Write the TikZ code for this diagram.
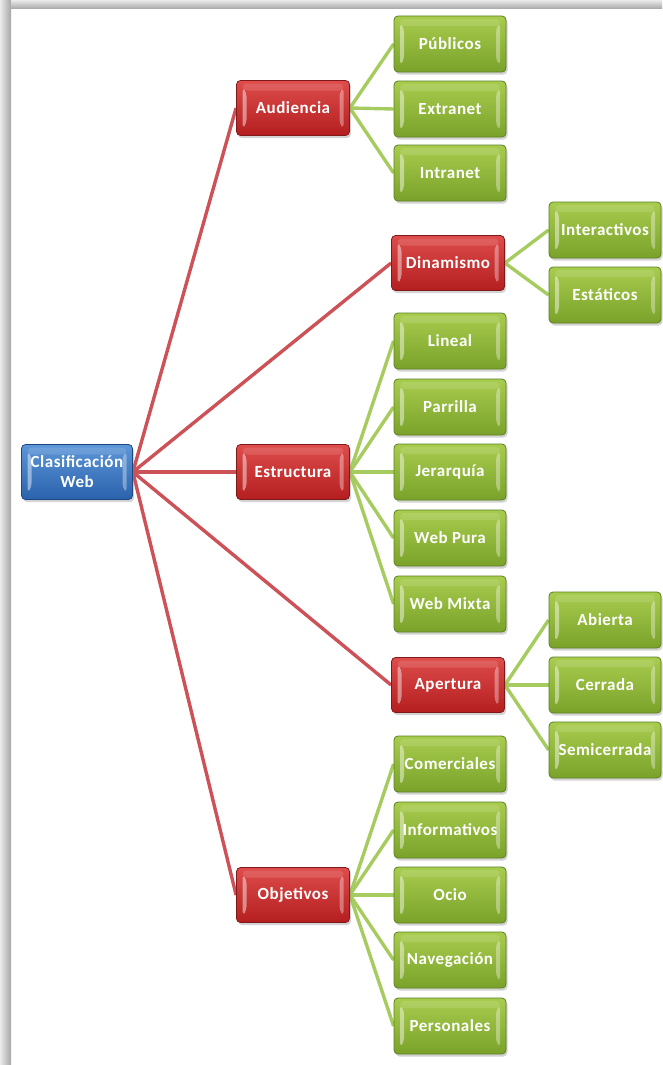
\documentclass[tikz,border=0pt]{standalone}
\usepackage{fontspec}
\setmainfont{Carlito}[LetterSpace=3]
\usetikzlibrary{shadows,calc,backgrounds}

\definecolor{redTop}{RGB}{222,76,76}
\definecolor{redBot}{RGB}{180,30,30}
\definecolor{redEdge}{RGB}{128,26,26}
\definecolor{grnTop}{RGB}{168,204,78}
\definecolor{grnBot}{RGB}{122,162,42}
\definecolor{grnEdge}{RGB}{92,128,34}
\definecolor{bluTop}{RGB}{92,150,215}
\definecolor{bluBot}{RGB}{42,98,172}
\definecolor{bluEdge}{RGB}{32,70,130}
\definecolor{redLine}{RGB}{204,82,88}
\definecolor{grnLine}{RGB}{166,204,96}

\tikzset{
  bevel/.style={path picture={
    \fill[white,opacity=.45]
      ($(path picture bounding box.north west)+(6,7)$) --
      ($(path picture bounding box.north west)+(10,12)$) --
      ($(path picture bounding box.south west)+(10,-12)$) --
      ($(path picture bounding box.south west)+(6,-7)$) -- cycle;
    \fill[white,opacity=.35]
      ($(path picture bounding box.north east)+(-6,7)$) --
      ($(path picture bounding box.north east)+(-10,12)$) --
      ($(path picture bounding box.south east)+(-10,-12)$) --
      ($(path picture bounding box.south east)+(-6,-7)$) -- cycle;
    \fill[white,opacity=.12]
      ($(path picture bounding box.north west)+(6,3)$) rectangle
      ($(path picture bounding box.north east)+(-6,10)$);
  }},
  box/.style={rounded corners=4pt, minimum width=112pt, minimum height=56pt,
    inner sep=0pt, align=center, text=white, line width=0.8pt,
    font=\bfseries\fontsize{17}{20}\selectfont, bevel,
    drop shadow={shadow xshift=1.5pt, shadow yshift=-2.5pt, opacity=.35}},
  rootbox/.style={box, minimum width=111pt, minimum height=55pt,
    top color=bluTop, bottom color=bluBot, draw=bluEdge},
  redbox/.style={box, minimum width=113pt, minimum height=55pt,
    top color=redTop, bottom color=redBot, draw=redEdge},
  leafbox/.style={box, top color=grnTop, bottom color=grnBot, draw=grnEdge},
  redlink/.style={draw=redLine, line width=3.4pt},
  grnlink/.style={draw=grnLine, line width=3.4pt},
}

\begin{document}
\begin{tikzpicture}[x=1pt,y=-1pt]
  \useasboundingbox (0,0) rectangle (662,1065);
  % shadowed frame along the top and left edges
  \shade[left color=black!8, right color=black!35] (0,0) rectangle (11,1065);
  \shade[top color=black!8, bottom color=black!35] (11,0) rectangle (662,9);

  % root
  \node[rootbox] (root) at (77,472) {Clasificación\\Web};

  % first level
  \node[redbox] (aud) at (293,108) {Audiencia};
  \node[redbox] (din) at (448,263) {Dinamismo};
  \node[redbox] (est) at (293,472) {Estructura};
  \node[redbox] (ape) at (448,685) {Apertura};
  \node[redbox] (obj) at (293,895) {Objetivos};

  % Audiencia
  \node[leafbox] (pub) at (450,44)  {Públicos};
  \node[leafbox] (ext) at (450,109) {Extranet};
  \node[leafbox] (int) at (450,173) {Intranet};
  % Dinamismo
  \node[leafbox] (inter) at (605,230) {Interactivos};
  \node[leafbox] (esta)  at (605,295) {Estáticos};
  % Estructura
  \node[leafbox] (lin) at (450,341) {Lineal};
  \node[leafbox] (par) at (450,407) {Parrilla};
  \node[leafbox] (jer) at (450,472) {Jerarquía};
  \node[leafbox] (wpu) at (450,538) {Web Pura};
  \node[leafbox] (wmi) at (450,604) {Web Mixta};
  % Apertura
  \node[leafbox] (abi) at (605,620) {Abierta};
  \node[leafbox] (cer) at (605,685) {Cerrada};
  \node[leafbox] (sem) at (605,750) {Semicerrada};
  % Objetivos
  \node[leafbox] (com) at (450,764)  {Comerciales};
  \node[leafbox] (inf) at (450,830)  {Informativos};
  \node[leafbox] (oci) at (450,895)  {Ocio};
  \node[leafbox] (nav) at (450,960)  {Navegación};
  \node[leafbox] (per) at (450,1026) {Personales};

  \begin{scope}[on background layer]
    \foreach \n in {aud,din,est,ape,obj}
      \draw[redlink] (root.east) -- (\n.west);
    \foreach \n in {pub,ext,int}
      \draw[grnlink] (aud.east) -- (\n.west);
    \foreach \n in {inter,esta}
      \draw[grnlink] (din.east) -- (\n.west);
    \foreach \n in {lin,par,jer,wpu,wmi}
      \draw[grnlink] (est.east) -- (\n.west);
    \foreach \n in {abi,cer,sem}
      \draw[grnlink] (ape.east) -- (\n.west);
    \foreach \n in {com,inf,oci,nav,per}
      \draw[grnlink] (obj.east) -- (\n.west);
  \end{scope}
\end{tikzpicture}
\end{document}
